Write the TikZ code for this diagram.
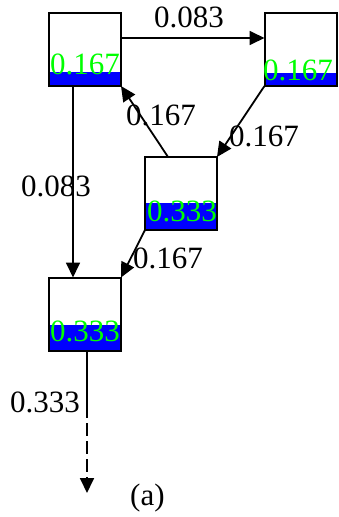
\documentclass[tikz,border=0pt]{standalone}
\usepackage{fontspec}
\setmainfont{Liberation Serif}
\usetikzlibrary{arrows.meta,calc}
\definecolor{vgreen}{RGB}{0,255,0}
\definecolor{vblue}{RGB}{0,0,255}
\begin{document}
\begin{tikzpicture}[x=1pt,y=-1pt,
  boxpos/.style={minimum width=72pt,minimum height=73pt,inner sep=0pt,outer sep=0pt},
  val/.style={anchor=base west,inner sep=0pt,text=vgreen,font=\fontsize{31}{31}\selectfont},
  lab/.style={anchor=base west,inner sep=0pt,text=black,font=\fontsize{31}{31}\selectfont},
  edge/.style={line width=1.8pt,-{Triangle[length=15pt,width=14pt]}}]
\useasboundingbox (0,0) rectangle (338,517);
% boxes (positions)
\node[boxpos] (A) at (85,49.5) {};
\node[boxpos] (B) at (300.5,49.5) {};
\node[boxpos] (C) at (181,193.5) {};
\node[boxpos] (D) at (85,314) {};
% blue bands
\fill[vblue] (A.south west) rectangle ([yshift=14pt]A.south east);
\fill[vblue] (B.south west) rectangle ([yshift=13pt]B.south east);
\fill[vblue] (C.south west) rectangle ([yshift=27pt]C.south east);
\fill[vblue] (D.south west) rectangle ([yshift=26pt]D.south east);
% outlines
\foreach \n in {A,B,C,D} \draw[line width=2pt] (\n.south west) rectangle (\n.north east);
% connectors
\draw[edge] ([yshift=11.5pt]A.east) -- ([yshift=11.5pt]B.west);
\draw[edge] ([xshift=-12pt]A.south) -- ([xshift=-12pt]D.north);
\draw[edge] ($(C.north west)!0.32!(C.north east)$) -- (A.south east);
\draw[edge] (B.south west) -- (C.north east);
\draw[edge] (C.south west) -- (D.north east);
\coordinate (m) at (87,405);
\coordinate (e) at (87,493);
\draw[line width=1.8pt] ([xshift=2pt]D.south) -- (m);
\draw[line width=1.8pt,dash pattern=on 13pt off 5pt,-{Triangle[length=15pt,width=14pt]}] (m) -- (e);
% values
\node[val] (vA) at (50,74) {0.167};
\node[val] (vB) at (263,80) {0.167};
\node[val] (vC) at (147,221) {0.333};
\node[val] (vD) at (50,341) {0.333};
% labels
\node[lab] (l1) at (154,27) {0.083};
\node[lab] (l2) at (126,125) {0.167};
\node[lab] (l3) at (229,146) {0.167};
\node[lab] (l4) at (21,196) {0.083};
\node[lab] (l5) at (133,268) {0.167};
\node[lab] (l6) at (10,412) {0.333};
\node[lab] (l7) at (130,505) {(a)};
\end{tikzpicture}
\end{document}
